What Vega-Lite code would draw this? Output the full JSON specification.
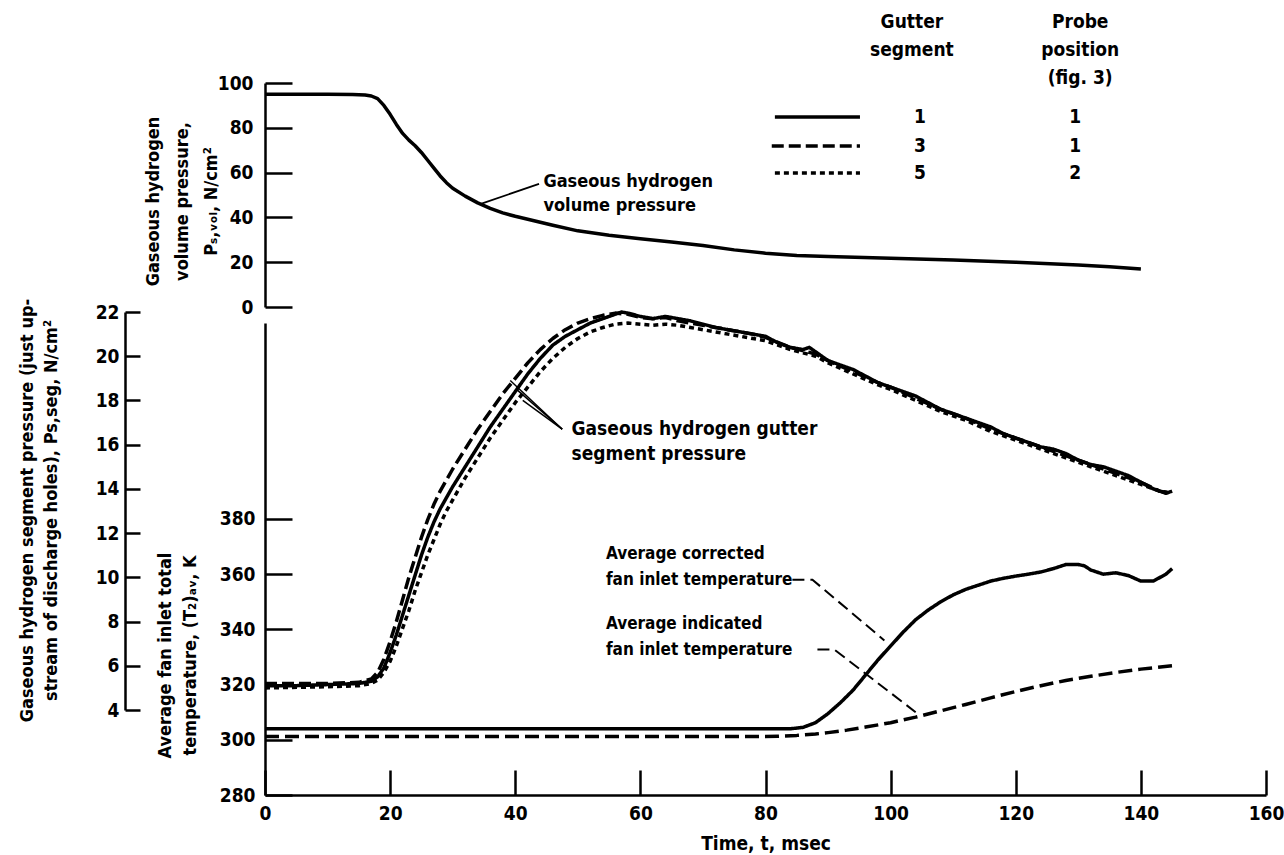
{
  "$schema": "https://vega.github.io/schema/vega-lite/v6.json",
  "width": 1001,
  "height": 712,
  "autosize": {"type": "none"},
  "padding": {"left": 265, "top": 83, "right": 18, "bottom": 60},
  "background": "white",
  "config": {
    "view": {"stroke": null},
    "font": "Liberation Sans Narrow, DejaVu Sans Condensed, sans-serif",
    "text": {"font": "Liberation Sans Narrow, DejaVu Sans Condensed, sans-serif", "fontWeight": "bold", "fontSize": 19, "color": "black"},
    "axis": {
      "domainColor": "black", "tickColor": "black", "labelColor": "black", "titleColor": "black",
      "domainWidth": 2.5, "tickWidth": 2.5, "grid": false,
      "labelFont": "Liberation Sans Narrow, DejaVu Sans Condensed, sans-serif",
      "titleFont": "Liberation Sans Narrow, DejaVu Sans Condensed, sans-serif",
      "labelFontWeight": "bold", "titleFontWeight": "bold",
      "labelFontSize": 19, "titleFontSize": 18, "labelFlush": false, "labelOverlap": false
    }
  },
  "datasets": {
    "vol": [
      {"t": 0, "v": 95}, {"t": 5, "v": 95}, {"t": 10, "v": 95}, {"t": 14, "v": 94.9}, {"t": 16, "v": 94.6},
      {"t": 17, "v": 94.2}, {"t": 18, "v": 93}, {"t": 19, "v": 90}, {"t": 20, "v": 86}, {"t": 21, "v": 81.5},
      {"t": 22, "v": 77.5}, {"t": 23, "v": 74.5}, {"t": 24, "v": 72}, {"t": 25, "v": 69}, {"t": 26, "v": 65.5},
      {"t": 27, "v": 62}, {"t": 28, "v": 58.5}, {"t": 29, "v": 55.5}, {"t": 30, "v": 53}, {"t": 32, "v": 49.5},
      {"t": 34, "v": 46.5}, {"t": 36, "v": 44}, {"t": 38, "v": 42}, {"t": 40, "v": 40.5}, {"t": 43, "v": 38.5},
      {"t": 46, "v": 36.5}, {"t": 50, "v": 34}, {"t": 55, "v": 32}, {"t": 60, "v": 30.5}, {"t": 65, "v": 29},
      {"t": 70, "v": 27.5}, {"t": 75, "v": 25.5}, {"t": 80, "v": 24}, {"t": 85, "v": 23}, {"t": 90, "v": 22.5},
      {"t": 100, "v": 21.8}, {"t": 110, "v": 21}, {"t": 120, "v": 20}, {"t": 130, "v": 18.8}, {"t": 135, "v": 18},
      {"t": 140, "v": 17}
    ],
    "volNote": [
      {"t": 44.5, "v": 56, "label": "Gaseous hydrogen"},
      {"t": 44.5, "v": 45, "label": "volume pressure"}
    ],
    "volLeader": [
      {"t": 43.8, "v": 55}, {"t": 34.5, "v": 46}
    ],
    "legLines": [
      {"t": 81.5, "v": 84.8, "s": "1"}, {"t": 95.1, "v": 84.8, "s": "1"},
      {"t": 81.0, "v": 71.9, "s": "3"}, {"t": 95.1, "v": 71.9, "s": "3"},
      {"t": 81.5, "v": 59.8, "s": "5"}, {"t": 95.1, "v": 59.8, "s": "5"}
    ],
    "legText": [
      {"t": 103.4, "v": 127.2, "label": "Gutter"},
      {"t": 103.4, "v": 114.7, "label": "segment"},
      {"t": 130.3, "v": 127.2, "label": "Probe"},
      {"t": 130.3, "v": 114.7, "label": "position"},
      {"t": 130.3, "v": 102.2, "label": "(fig. 3)"},
      {"t": 104.7, "v": 84.8, "label": "1"}, {"t": 129.5, "v": 84.8, "label": "1"},
      {"t": 104.7, "v": 71.9, "label": "3"}, {"t": 129.5, "v": 71.9, "label": "1"},
      {"t": 104.7, "v": 59.8, "label": "5"}, {"t": 129.5, "v": 59.8, "label": "2"}
    ],
    "seg": [
      {"t": 0, "p": 5.1, "s": "1"}, {"t": 5, "p": 5.1, "s": "1"}, {"t": 10, "p": 5.15, "s": "1"}, {"t": 15, "p": 5.2, "s": "1"},
      {"t": 17, "p": 5.3, "s": "1"}, {"t": 18, "p": 5.5, "s": "1"}, {"t": 19, "p": 5.9, "s": "1"}, {"t": 20, "p": 6.6, "s": "1"},
      {"t": 21, "p": 7.4, "s": "1"}, {"t": 22, "p": 8.3, "s": "1"}, {"t": 23, "p": 9.2, "s": "1"}, {"t": 24, "p": 10.1, "s": "1"},
      {"t": 25, "p": 11.0, "s": "1"}, {"t": 26, "p": 11.8, "s": "1"}, {"t": 27, "p": 12.5, "s": "1"}, {"t": 28, "p": 13.1, "s": "1"},
      {"t": 29, "p": 13.6, "s": "1"}, {"t": 30, "p": 14.1, "s": "1"}, {"t": 32, "p": 15.0, "s": "1"}, {"t": 34, "p": 15.9, "s": "1"},
      {"t": 36, "p": 16.8, "s": "1"}, {"t": 38, "p": 17.6, "s": "1"}, {"t": 40, "p": 18.4, "s": "1"}, {"t": 42, "p": 19.2, "s": "1"},
      {"t": 44, "p": 19.9, "s": "1"}, {"t": 46, "p": 20.5, "s": "1"}, {"t": 48, "p": 20.9, "s": "1"}, {"t": 50, "p": 21.2, "s": "1"},
      {"t": 52, "p": 21.5, "s": "1"}, {"t": 54, "p": 21.7, "s": "1"}, {"t": 56, "p": 21.9, "s": "1"}, {"t": 57, "p": 22.0, "s": "1"},
      {"t": 58, "p": 21.95, "s": "1"}, {"t": 60, "p": 21.8, "s": "1"}, {"t": 62, "p": 21.7, "s": "1"}, {"t": 64, "p": 21.8, "s": "1"},
      {"t": 66, "p": 21.7, "s": "1"}, {"t": 68, "p": 21.6, "s": "1"}, {"t": 70, "p": 21.45, "s": "1"}, {"t": 72, "p": 21.3, "s": "1"},
      {"t": 74, "p": 21.2, "s": "1"}, {"t": 76, "p": 21.1, "s": "1"}, {"t": 78, "p": 21.0, "s": "1"}, {"t": 80, "p": 20.9, "s": "1"},
      {"t": 82, "p": 20.6, "s": "1"}, {"t": 84, "p": 20.4, "s": "1"}, {"t": 86, "p": 20.3, "s": "1"}, {"t": 87, "p": 20.4, "s": "1"},
      {"t": 88, "p": 20.2, "s": "1"}, {"t": 90, "p": 19.8, "s": "1"}, {"t": 92, "p": 19.6, "s": "1"}, {"t": 94, "p": 19.4, "s": "1"},
      {"t": 96, "p": 19.1, "s": "1"}, {"t": 98, "p": 18.8, "s": "1"}, {"t": 100, "p": 18.6, "s": "1"}, {"t": 102, "p": 18.4, "s": "1"},
      {"t": 104, "p": 18.2, "s": "1"}, {"t": 106, "p": 17.9, "s": "1"}, {"t": 108, "p": 17.6, "s": "1"}, {"t": 110, "p": 17.4, "s": "1"},
      {"t": 112, "p": 17.2, "s": "1"}, {"t": 114, "p": 17.0, "s": "1"}, {"t": 116, "p": 16.8, "s": "1"}, {"t": 118, "p": 16.5, "s": "1"},
      {"t": 120, "p": 16.3, "s": "1"}, {"t": 122, "p": 16.1, "s": "1"}, {"t": 124, "p": 15.9, "s": "1"}, {"t": 126, "p": 15.8, "s": "1"},
      {"t": 128, "p": 15.6, "s": "1"}, {"t": 130, "p": 15.3, "s": "1"}, {"t": 132, "p": 15.1, "s": "1"}, {"t": 134, "p": 15.0, "s": "1"},
      {"t": 136, "p": 14.8, "s": "1"}, {"t": 138, "p": 14.6, "s": "1"}, {"t": 140, "p": 14.3, "s": "1"}, {"t": 142, "p": 14.0, "s": "1"},
      {"t": 144, "p": 13.8, "s": "1"}, {"t": 145, "p": 13.9, "s": "1"},

      {"t": 0, "p": 5.2, "s": "3"}, {"t": 10, "p": 5.2, "s": "3"}, {"t": 15, "p": 5.25, "s": "3"}, {"t": 17, "p": 5.4, "s": "3"},
      {"t": 18, "p": 5.7, "s": "3"}, {"t": 19, "p": 6.3, "s": "3"}, {"t": 20, "p": 7.1, "s": "3"}, {"t": 21, "p": 8.0, "s": "3"},
      {"t": 22, "p": 9.0, "s": "3"}, {"t": 23, "p": 10.0, "s": "3"}, {"t": 24, "p": 10.9, "s": "3"}, {"t": 25, "p": 11.8, "s": "3"},
      {"t": 26, "p": 12.6, "s": "3"}, {"t": 27, "p": 13.3, "s": "3"}, {"t": 28, "p": 13.9, "s": "3"}, {"t": 29, "p": 14.4, "s": "3"},
      {"t": 30, "p": 14.9, "s": "3"}, {"t": 32, "p": 15.8, "s": "3"}, {"t": 34, "p": 16.7, "s": "3"}, {"t": 36, "p": 17.5, "s": "3"},
      {"t": 38, "p": 18.3, "s": "3"}, {"t": 40, "p": 19.0, "s": "3"}, {"t": 42, "p": 19.7, "s": "3"}, {"t": 44, "p": 20.3, "s": "3"},
      {"t": 46, "p": 20.8, "s": "3"}, {"t": 48, "p": 21.2, "s": "3"}, {"t": 50, "p": 21.5, "s": "3"}, {"t": 52, "p": 21.7, "s": "3"},
      {"t": 54, "p": 21.85, "s": "3"}, {"t": 56, "p": 21.95, "s": "3"}, {"t": 58, "p": 21.9, "s": "3"}, {"t": 60, "p": 21.75, "s": "3"},
      {"t": 62, "p": 21.7, "s": "3"}, {"t": 64, "p": 21.75, "s": "3"}, {"t": 66, "p": 21.6, "s": "3"}, {"t": 68, "p": 21.5, "s": "3"},
      {"t": 70, "p": 21.4, "s": "3"}, {"t": 74, "p": 21.2, "s": "3"}, {"t": 78, "p": 21.0, "s": "3"}, {"t": 80, "p": 20.85, "s": "3"},
      {"t": 84, "p": 20.4, "s": "3"}, {"t": 88, "p": 20.1, "s": "3"}, {"t": 90, "p": 19.8, "s": "3"}, {"t": 94, "p": 19.3, "s": "3"},
      {"t": 98, "p": 18.8, "s": "3"}, {"t": 100, "p": 18.6, "s": "3"}, {"t": 104, "p": 18.1, "s": "3"}, {"t": 108, "p": 17.6, "s": "3"},
      {"t": 112, "p": 17.2, "s": "3"}, {"t": 116, "p": 16.7, "s": "3"}, {"t": 120, "p": 16.3, "s": "3"}, {"t": 124, "p": 15.9, "s": "3"},
      {"t": 128, "p": 15.5, "s": "3"}, {"t": 132, "p": 15.1, "s": "3"}, {"t": 136, "p": 14.7, "s": "3"}, {"t": 140, "p": 14.3, "s": "3"},
      {"t": 143, "p": 13.9, "s": "3"}, {"t": 145, "p": 13.8, "s": "3"},

      {"t": 0, "p": 5.0, "s": "5"}, {"t": 10, "p": 5.05, "s": "5"}, {"t": 15, "p": 5.1, "s": "5"}, {"t": 17, "p": 5.2, "s": "5"},
      {"t": 18, "p": 5.35, "s": "5"}, {"t": 19, "p": 5.7, "s": "5"}, {"t": 20, "p": 6.2, "s": "5"}, {"t": 21, "p": 6.9, "s": "5"},
      {"t": 22, "p": 7.7, "s": "5"}, {"t": 23, "p": 8.5, "s": "5"}, {"t": 24, "p": 9.4, "s": "5"}, {"t": 25, "p": 10.2, "s": "5"},
      {"t": 26, "p": 11.0, "s": "5"}, {"t": 27, "p": 11.7, "s": "5"}, {"t": 28, "p": 12.4, "s": "5"}, {"t": 29, "p": 13.0, "s": "5"},
      {"t": 30, "p": 13.5, "s": "5"}, {"t": 32, "p": 14.5, "s": "5"}, {"t": 34, "p": 15.4, "s": "5"}, {"t": 36, "p": 16.3, "s": "5"},
      {"t": 38, "p": 17.1, "s": "5"}, {"t": 40, "p": 17.9, "s": "5"}, {"t": 42, "p": 18.6, "s": "5"}, {"t": 44, "p": 19.3, "s": "5"},
      {"t": 46, "p": 19.9, "s": "5"}, {"t": 48, "p": 20.4, "s": "5"}, {"t": 50, "p": 20.8, "s": "5"}, {"t": 52, "p": 21.1, "s": "5"},
      {"t": 54, "p": 21.3, "s": "5"}, {"t": 56, "p": 21.45, "s": "5"}, {"t": 58, "p": 21.5, "s": "5"}, {"t": 60, "p": 21.45, "s": "5"},
      {"t": 62, "p": 21.4, "s": "5"}, {"t": 64, "p": 21.45, "s": "5"}, {"t": 66, "p": 21.4, "s": "5"}, {"t": 68, "p": 21.3, "s": "5"},
      {"t": 70, "p": 21.2, "s": "5"}, {"t": 74, "p": 21.0, "s": "5"}, {"t": 78, "p": 20.8, "s": "5"}, {"t": 80, "p": 20.7, "s": "5"},
      {"t": 84, "p": 20.3, "s": "5"}, {"t": 88, "p": 20.0, "s": "5"}, {"t": 90, "p": 19.7, "s": "5"}, {"t": 94, "p": 19.2, "s": "5"},
      {"t": 98, "p": 18.7, "s": "5"}, {"t": 100, "p": 18.5, "s": "5"}, {"t": 104, "p": 18.0, "s": "5"}, {"t": 108, "p": 17.5, "s": "5"},
      {"t": 112, "p": 17.1, "s": "5"}, {"t": 116, "p": 16.6, "s": "5"}, {"t": 120, "p": 16.2, "s": "5"}, {"t": 124, "p": 15.8, "s": "5"},
      {"t": 128, "p": 15.4, "s": "5"}, {"t": 132, "p": 15.0, "s": "5"}, {"t": 136, "p": 14.6, "s": "5"}, {"t": 140, "p": 14.2, "s": "5"},
      {"t": 143, "p": 13.9, "s": "5"}, {"t": 145, "p": 13.8, "s": "5"}
    ],
    "segNote": [
      {"t": 49, "p": 16.7, "label": "Gaseous hydrogen gutter"},
      {"t": 49, "p": 15.6, "label": "segment pressure"}
    ],
    "segLeader": [
      {"t": 39.2, "p": 18.9, "g": "a"}, {"t": 47.5, "p": 16.7, "g": "a"},
      {"t": 40.2, "p": 18.5, "g": "b"}, {"t": 47.5, "p": 16.7, "g": "b"},
      {"t": 41.2, "p": 18.0, "g": "c"}, {"t": 47.5, "p": 16.7, "g": "c"}
    ],
    "temp": [
      {"t": 0, "T": 304, "k": "c"}, {"t": 40, "T": 304, "k": "c"}, {"t": 84, "T": 304, "k": "c"}, {"t": 86, "T": 304.5, "k": "c"},
      {"t": 88, "T": 306.2, "k": "c"}, {"t": 90, "T": 309.5, "k": "c"}, {"t": 92, "T": 313.5, "k": "c"}, {"t": 94, "T": 318, "k": "c"},
      {"t": 96, "T": 323.5, "k": "c"}, {"t": 98, "T": 329, "k": "c"}, {"t": 100, "T": 334, "k": "c"}, {"t": 102, "T": 339, "k": "c"},
      {"t": 104, "T": 343.5, "k": "c"}, {"t": 106, "T": 347, "k": "c"}, {"t": 108, "T": 350, "k": "c"}, {"t": 110, "T": 352.5, "k": "c"},
      {"t": 112, "T": 354.5, "k": "c"}, {"t": 114, "T": 356, "k": "c"}, {"t": 116, "T": 357.5, "k": "c"}, {"t": 118, "T": 358.5, "k": "c"},
      {"t": 120, "T": 359.3, "k": "c"}, {"t": 122, "T": 360, "k": "c"}, {"t": 124, "T": 360.8, "k": "c"}, {"t": 126, "T": 362, "k": "c"},
      {"t": 128, "T": 363.5, "k": "c"}, {"t": 130, "T": 363.5, "k": "c"}, {"t": 131, "T": 363, "k": "c"}, {"t": 132, "T": 361.5, "k": "c"},
      {"t": 134, "T": 360, "k": "c"}, {"t": 136, "T": 360.5, "k": "c"}, {"t": 138, "T": 359.5, "k": "c"}, {"t": 140, "T": 357.5, "k": "c"},
      {"t": 142, "T": 357.5, "k": "c"}, {"t": 144, "T": 360, "k": "c"}, {"t": 145, "T": 362, "k": "c"},
      {"t": 0, "T": 301.2, "k": "i"}, {"t": 40, "T": 301.2, "k": "i"}, {"t": 80, "T": 301.2, "k": "i"}, {"t": 82, "T": 301.3, "k": "i"},
      {"t": 85, "T": 301.6, "k": "i"}, {"t": 88, "T": 302.1, "k": "i"}, {"t": 90, "T": 302.6, "k": "i"}, {"t": 93, "T": 303.5, "k": "i"},
      {"t": 96, "T": 304.6, "k": "i"}, {"t": 100, "T": 306.2, "k": "i"}, {"t": 104, "T": 308.2, "k": "i"}, {"t": 108, "T": 310.5, "k": "i"},
      {"t": 112, "T": 312.8, "k": "i"}, {"t": 116, "T": 315.2, "k": "i"}, {"t": 120, "T": 317.5, "k": "i"}, {"t": 124, "T": 319.6, "k": "i"},
      {"t": 128, "T": 321.5, "k": "i"}, {"t": 132, "T": 323, "k": "i"}, {"t": 136, "T": 324.4, "k": "i"}, {"t": 140, "T": 325.6, "k": "i"},
      {"t": 145, "T": 326.8, "k": "i"}
    ],
    "tempNote": [
      {"t": 54.5, "T": 367.3, "label": "Average corrected"},
      {"t": 54.5, "T": 358, "label": "fan inlet temperature"},
      {"t": 54.5, "T": 342, "label": "Average indicated"},
      {"t": 54.5, "T": 332.7, "label": "fan inlet temperature"}
    ],
    "tempLeader": [
      {"t": 84.3, "T": 358, "g": "c"}, {"t": 87.5, "T": 358, "g": "c"}, {"t": 99, "T": 336, "g": "c"},
      {"t": 88.3, "T": 332.7, "g": "i"}, {"t": 91, "T": 332.7, "g": "i"}, {"t": 104, "T": 310, "g": "i"}
    ]
  },
  "layer": [
    {
      "layer": [
        {
          "data": {"name": "vol"},
          "mark": {"type": "line", "color": "black", "strokeWidth": 3.5, "strokeJoin": "round"},
          "encoding": {
            "x": {"field": "t", "type": "quantitative", "scale": {"domain": [0, 160], "nice": false, "zero": false},
                  "axis": {"values": [0, 20, 40, 60, 80, 100, 120, 140, 160], "tickSize": -25, "labelPadding": 34,
                           "title": "Time, t, msec", "titleFontSize": 19, "titleY": 48, "titleBaseline": "middle"}},
            "y": {"field": "v", "type": "quantitative",
                  "scale": {"domain": [0, 100], "range": [224, 0], "nice": false, "zero": false},
                  "axis": {"orient": "left", "offset": 0, "values": [0, 20, 40, 60, 80, 100], "tickSize": -27, "labelPadding": 39,
                           "title": ["Gaseous hydrogen", "volume pressure,", "Pₛ,ᵥₒₗ, N/cm²"], "titleAngle": 270,
                           "titleX": -112, "titleY": 118, "titleAlign": "center", "titleBaseline": "middle", "titleLineHeight": 29}}
          }
        },
        {
          "data": {"name": "volNote"},
          "mark": {"type": "text", "align": "left", "baseline": "middle", "fontSize": 18},
          "encoding": {
            "x": {"field": "t", "type": "quantitative"},
            "y": {"field": "v", "type": "quantitative", "scale": {"domain": [0, 100], "range": [224, 0], "nice": false, "zero": false}},
            "text": {"field": "label"}
          }
        },
        {
          "data": {"name": "volLeader"},
          "mark": {"type": "line", "color": "black", "strokeWidth": 1.8},
          "encoding": {
            "x": {"field": "t", "type": "quantitative"},
            "y": {"field": "v", "type": "quantitative", "scale": {"domain": [0, 100], "range": [224, 0], "nice": false, "zero": false}}
          }
        },
        {
          "data": {"name": "legLines"},
          "mark": {"type": "line", "color": "black"},
          "encoding": {
            "x": {"field": "t", "type": "quantitative"},
            "y": {"field": "v", "type": "quantitative", "scale": {"domain": [0, 100], "range": [224, 0], "nice": false, "zero": false}},
            "strokeDash": {"field": "s", "type": "nominal", "legend": null,
                           "scale": {"domain": ["1", "3", "5", "c", "i"], "range": [[1, 0], [12, 5], [5, 4], [1, 0], [14, 6]]}},
            "strokeWidth": {"field": "s", "type": "nominal", "legend": null,
                            "scale": {"domain": ["1", "3", "5", "c", "i"], "range": [3.5, 3.5, 2.5, 3.5, 3]}}
          }
        },
        {
          "data": {"name": "legText"},
          "mark": {"type": "text", "align": "center", "baseline": "middle"},
          "encoding": {
            "x": {"field": "t", "type": "quantitative"},
            "y": {"field": "v", "type": "quantitative", "scale": {"domain": [0, 100], "range": [224, 0], "nice": false, "zero": false}},
            "text": {"field": "label"}
          }
        }
      ]
    },
    {
      "layer": [
        {
          "data": {"name": "seg"},
          "mark": {"type": "line", "color": "black", "strokeJoin": "round"},
          "encoding": {
            "x": {"field": "t", "type": "quantitative"},
            "y": {"field": "p", "type": "quantitative",
                  "scale": {"domain": [4, 22], "range": [627, 229], "nice": false, "zero": false},
                  "axis": {"orient": "left", "offset": 140, "values": [4, 6, 8, 10, 12, 14, 16, 18, 20, 22], "tickSize": -15, "labelPadding": 21,
                           "title": ["Gaseous hydrogen segment pressure (just up-", "stream of discharge holes), Ps,seg, N/cm²"],
                           "titleAngle": 270, "titleX": -98, "titleY": 427, "titleAlign": "center", "titleBaseline": "middle", "titleLineHeight": 24}},
            "strokeDash": {"field": "s", "type": "nominal", "legend": null,
                           "scale": {"domain": ["1", "3", "5", "c", "i"], "range": [[1, 0], [12, 5], [5, 4], [1, 0], [14, 6]]}},
            "strokeWidth": {"field": "s", "type": "nominal", "legend": null,
                            "scale": {"domain": ["1", "3", "5", "c", "i"], "range": [3.5, 3.5, 2.5, 3.5, 3]}}
          }
        },
        {
          "data": {"name": "segNote"},
          "mark": {"type": "text", "align": "left", "baseline": "middle"},
          "encoding": {
            "x": {"field": "t", "type": "quantitative"},
            "y": {"field": "p", "type": "quantitative", "scale": {"domain": [4, 22], "range": [627, 229], "nice": false, "zero": false}},
            "text": {"field": "label"}
          }
        },
        {
          "data": {"name": "segLeader"},
          "mark": {"type": "line", "color": "black", "strokeWidth": 1.5},
          "encoding": {
            "x": {"field": "t", "type": "quantitative"},
            "y": {"field": "p", "type": "quantitative", "scale": {"domain": [4, 22], "range": [627, 229], "nice": false, "zero": false}},
            "detail": {"field": "g"}
          }
        }
      ]
    },
    {
      "layer": [
        {
          "data": {"name": "temp"},
          "mark": {"type": "line", "color": "black", "strokeJoin": "round"},
          "encoding": {
            "x": {"field": "t", "type": "quantitative"},
            "y": {"field": "T", "type": "quantitative",
                  "scale": {"domain": [280, 451], "range": [712, 240], "nice": false, "zero": false},
                  "axis": {"orient": "left", "offset": 0, "values": [280, 300, 320, 340, 360, 380], "tickSize": -27, "labelPadding": 37,
                           "title": ["Average fan inlet total", "temperature, (T₂)ₐᵥ, K"],
                           "titleAngle": 270, "titleX": -100, "titleY": 572, "titleAlign": "center", "titleBaseline": "middle", "titleLineHeight": 25}},
            "strokeDash": {"field": "k", "type": "nominal", "legend": null,
                           "scale": {"domain": ["1", "3", "5", "c", "i"], "range": [[1, 0], [12, 5], [5, 4], [1, 0], [14, 6]]}},
            "strokeWidth": {"field": "k", "type": "nominal", "legend": null,
                            "scale": {"domain": ["1", "3", "5", "c", "i"], "range": [3.5, 3.5, 2.5, 3.5, 3]}}
          }
        },
        {
          "data": {"name": "tempNote"},
          "mark": {"type": "text", "align": "left", "baseline": "middle", "fontSize": 17},
          "encoding": {
            "x": {"field": "t", "type": "quantitative"},
            "y": {"field": "T", "type": "quantitative", "scale": {"domain": [280, 451], "range": [712, 240], "nice": false, "zero": false}},
            "text": {"field": "label"}
          }
        },
        {
          "data": {"name": "tempLeader"},
          "mark": {"type": "line", "color": "black", "strokeWidth": 2, "strokeDash": [12, 6]},
          "encoding": {
            "x": {"field": "t", "type": "quantitative"},
            "y": {"field": "T", "type": "quantitative", "scale": {"domain": [280, 451], "range": [712, 240], "nice": false, "zero": false}},
            "detail": {"field": "g"}
          }
        }
      ]
    }
  ],
  "resolve": {"scale": {"y": "independent"}, "axis": {"y": "independent"}}
}
